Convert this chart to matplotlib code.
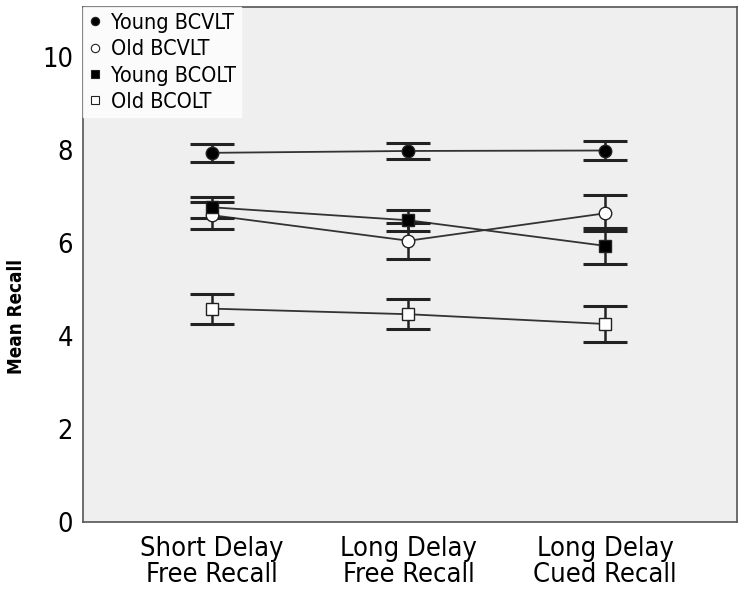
import matplotlib
matplotlib.use('Agg')
import matplotlib.pyplot as plt
import numpy as np

conditions = ['Short Delay\nFree Recall', 'Long Delay\nFree Recall', 'Long Delay\nCued Recall']
groups = ['Young BCVLT', 'Old BCVLT', 'Young BCOLT', 'Old BCOLT']

young_bcvlt = [7.94, 7.98, 7.99]
old_bcvlt = [6.60, 6.05, 6.64]
young_bcolt = [6.77, 6.49, 5.94]
old_bcolt = [4.59, 4.47, 4.26]

young_bcvlt_err = [0.20, 0.17, 0.21]
old_bcvlt_err = [0.29, 0.39, 0.39]
young_bcolt_err = [0.23, 0.22, 0.38]
old_bcolt_err = [0.32, 0.32, 0.39]

plt.rcParams['font.family'] = ['DejaVu Sans']
plt.rcParams['font.stretch'] = 'condensed'

fig = plt.figure(figsize=(7.46, 6.05), dpi=100)
ax = fig.add_axes([0.111, 0.137, 0.877, 0.851])
ax.set_facecolor('#efefef')

x = np.arange(len(conditions))
series = [
    (young_bcvlt, young_bcvlt_err, 'o', 'black'),
    (old_bcvlt, old_bcvlt_err, 'o', 'white'),
    (young_bcolt, young_bcolt_err, 's', 'black'),
    (old_bcolt, old_bcolt_err, 's', 'white'),
]

for (vals, errs, mk, fc), name in zip(series, groups):
    ax.plot(x, vals, color='#333333', lw=1.3, zorder=2)
    ax.errorbar(x, vals, yerr=errs, fmt='none', ecolor='#222222',
                elinewidth=1.8, capsize=16, capthick=2.2, zorder=3)
    ax.plot(x, vals, linestyle='none', marker=mk, markersize=9 if mk == 'o' else 8,
            markerfacecolor=fc, markeredgecolor='#222222', markeredgewidth=1.0,
            zorder=4)

# legend handles (markers only)
handles = []
for (vals, errs, mk, fc), name in zip(series, groups):
    h, = ax.plot([], [], linestyle='none', marker=mk, markersize=6,
                 markerfacecolor=fc, markeredgecolor='#222222',
                 markeredgewidth=0.8, label=name)
    handles.append(h)
leg = ax.legend(handles=handles, loc='upper left', frameon=True, fontsize=15.5,
                handlelength=0.6, handletextpad=0.45, borderpad=0.25,
                labelspacing=0.3, borderaxespad=0.0, fancybox=False)
leg.get_frame().set_facecolor('white')
leg.get_frame().set_edgecolor('white')

ax.set_xlim(-0.655, 2.67)
ax.set_ylim(0, 11.07)
ax.set_yticks([0, 2, 4, 6, 8, 10])
ax.set_xticks(x)
ax.set_xticklabels(conditions, fontsize=19.5, linespacing=1.0)
ax.tick_params(axis='both', length=0)
ax.tick_params(axis='x', pad=10, labelsize=19.5)
ax.tick_params(axis='y', pad=7, labelsize=19.5)
ax.set_ylabel('Mean Recall', fontsize=13.5, fontweight='bold')
ax.yaxis.set_label_coords(-0.087, 0.40)

for s in ax.spines.values():
    s.set_color('#555555')
    s.set_linewidth(1.2)

fig.savefig('out.png', dpi=100)
